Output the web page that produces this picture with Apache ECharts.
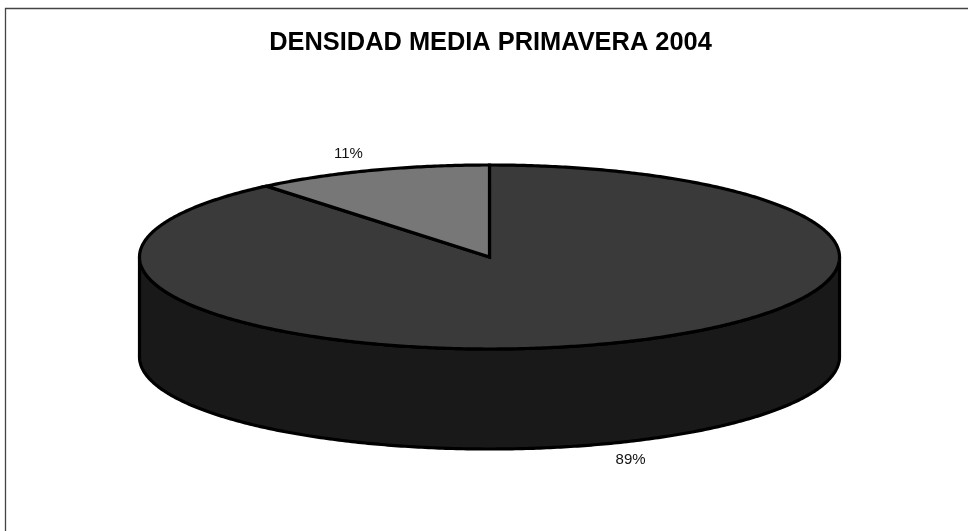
<!DOCTYPE html>
<html>
<head>
<meta charset="utf-8">
<style>
  html, body { margin: 0; padding: 0; background: #fff; }
  #chart { width: 968px; height: 531px; }
</style>
<script src="https://cdn.jsdelivr.net/npm/echarts@6/dist/echarts.min.js"></script>
</head>
<body>
<div id="chart"></div>
<script>
// Mean density, spring 2004: share of each group, in percent.
const sliceNames = ['Grupo A', 'Grupo B'];
const sliceValues = [89, 11];
const topColors = ['#3a3a3a', '#777777'];
const wallColors = ['#191919', '#3f3f3f'];
const chartTitle = 'DENSIDAD MEDIA PRIMAVERA 2004';

// Tilted pie geometry: ellipse for the top face plus the wall height below it.
const CX = 489.5, CY = 257, RX = 350, RY = 92, DEPTH = 100;
const LABEL_RADIUS = 1.19;
const total = sliceValues.reduce((a, b) => a + b, 0);

// Angles run clockwise from twelve o'clock, in radians.
const rimPoint = (a, drop) => [CX + RX * Math.sin(a), CY - RY * Math.cos(a) + (drop || 0)];

function arcPoints(from, to, drop) {
  const n = Math.max(2, Math.ceil(Math.abs(to - from) / 0.01));
  const pts = [];
  for (let i = 0; i <= n; i++) pts.push(rimPoint(from + (to - from) * i / n, drop));
  return pts;
}

function renderSlice(params, api) {
  const i = params.dataIndex;
  const before = sliceValues.slice(0, i).reduce((a, b) => a + b, 0);
  const start = before / total * 2 * Math.PI;
  const end = (before + api.value(0)) / total * 2 * Math.PI;
  const edge = { stroke: '#000', lineWidth: 3.2, lineJoin: 'miter' };
  const children = [];

  // Only the lower half of the rim (90 to 270 degrees) shows a wall.
  const wallFrom = Math.max(start, Math.PI / 2);
  const wallTo = Math.min(end, 3 * Math.PI / 2);
  if (wallTo > wallFrom) {
    children.push({
      type: 'polygon',
      shape: { points: arcPoints(wallFrom, wallTo, 0).concat(arcPoints(wallTo, wallFrom, DEPTH)) },
      style: Object.assign({ fill: wallColors[i] }, edge)
    });
  }

  // Top face of the slice.
  children.push({
    type: 'polygon',
    shape: { points: [[CX, CY]].concat(arcPoints(start, end, 0)) },
    style: Object.assign({ fill: topColors[i] }, edge)
  });

  // Percentage label just outside the rim, at the slice's middle angle.
  const mid = (start + end) / 2;
  const onFront = Math.cos(mid) < 0;
  children.push({
    type: 'text',
    z2: 10,
    style: {
      text: Math.round(api.value(0) / total * 100) + '%',
      x: CX + RX * LABEL_RADIUS * Math.sin(mid),
      y: CY - RY * LABEL_RADIUS * Math.cos(mid) + (onFront ? DEPTH : 0),
      align: 'center',
      verticalAlign: 'middle',
      fill: '#111',
      fontFamily: '"Liberation Sans", Arial, sans-serif',
      fontSize: 15
    }
  });
  return { type: 'group', children };
}

const chart = echarts.init(document.getElementById('chart'), null, { renderer: 'canvas' });
chart.setOption({
  animation: false,
  backgroundColor: '#fff',
  title: {
    text: chartTitle,
    left: 485.5,
    top: 25,
    textAlign: 'center',
    textStyle: {
      color: '#000',
      fontFamily: '"Liberation Sans", Arial, sans-serif',
      fontWeight: 'bold',
      fontSize: 25.4
    }
  },
  // Top and left rules of the chart frame.
  graphic: [
    { type: 'line', shape: { x1: 5, y1: 8.5, x2: 968, y2: 8.5 }, style: { stroke: '#444', lineWidth: 1.3 } },
    { type: 'line', shape: { x1: 5.5, y1: 8, x2: 5.5, y2: 531 }, style: { stroke: '#444', lineWidth: 1.3 } }
  ],
  series: [{
    type: 'custom',
    coordinateSystem: 'none',
    renderItem: renderSlice,
    data: sliceValues.map((v, i) => ({ name: sliceNames[i], value: [v] }))
  }]
});
</script>
</body>
</html>
